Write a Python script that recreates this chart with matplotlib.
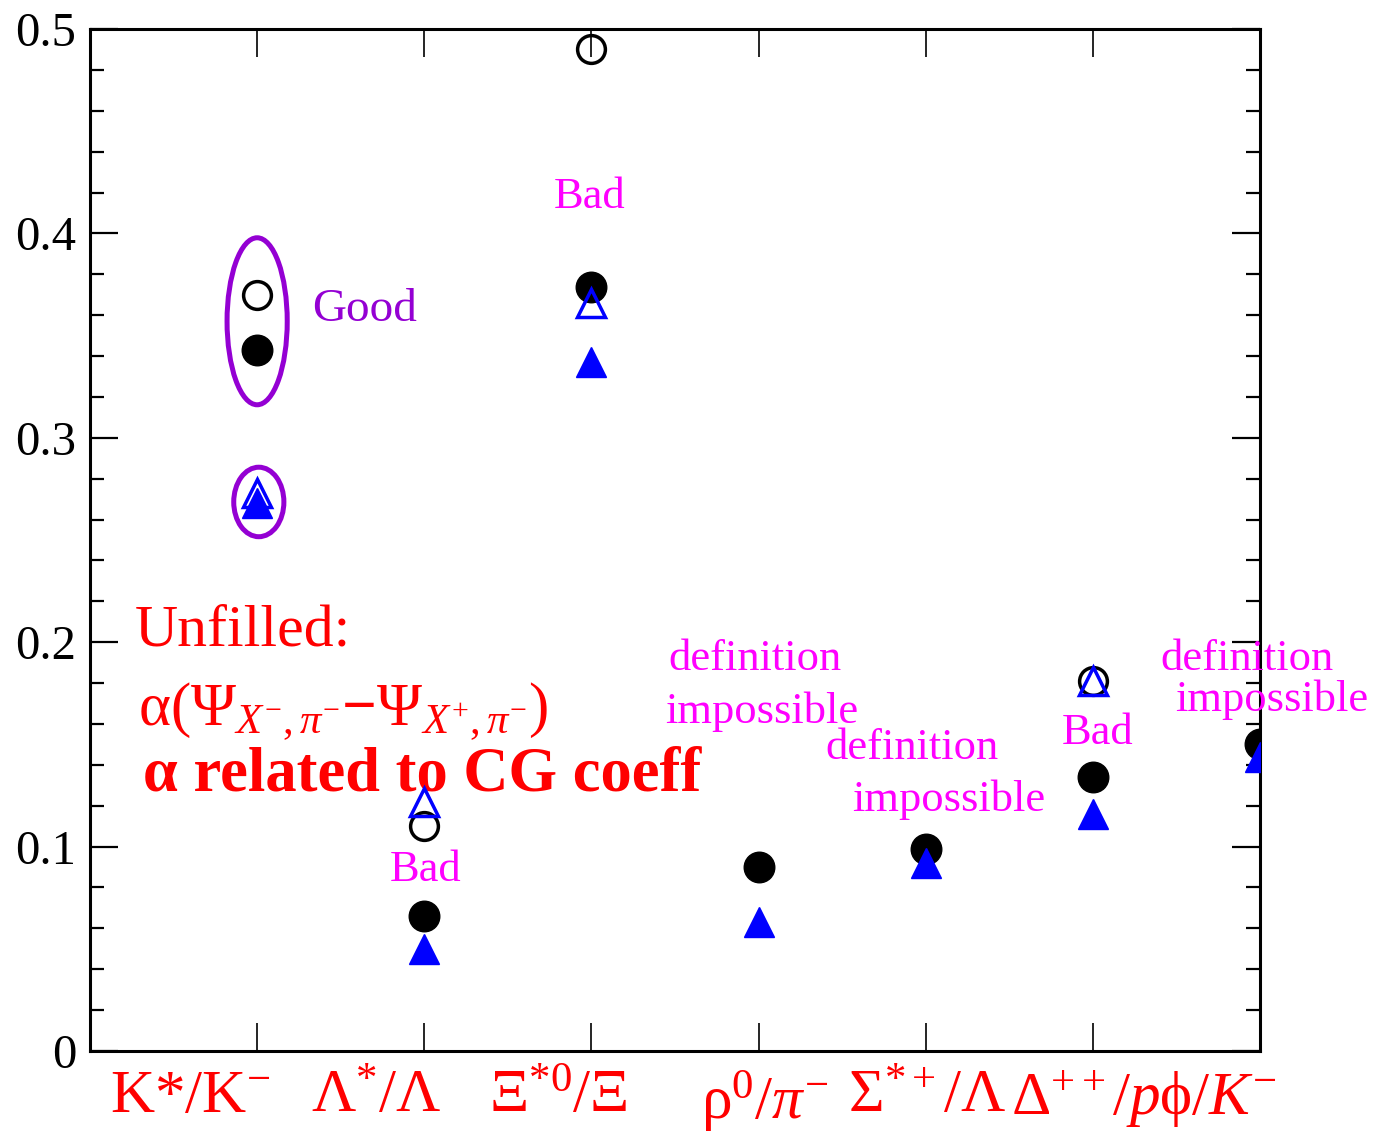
import matplotlib

matplotlib.use("Agg")
import matplotlib.pyplot as plt
import numpy as np
from matplotlib.patches import Ellipse
from matplotlib.ticker import MultipleLocator
import matplotlib.transforms as mtransforms

plt.rcParams["font.family"] = ["Liberation Serif", "DejaVu Serif"]
plt.rcParams["mathtext.fontset"] = "custom"
plt.rcParams["mathtext.rm"] = "Liberation Serif"
plt.rcParams["mathtext.it"] = "Liberation Serif:italic"
plt.rcParams["mathtext.bf"] = "Liberation Serif:bold"

# categories (x = 1..7)
categories = [
    r"K*/K$^{-}$",
    r"Λ$^{*}$/Λ",
    r"Ξ$^{*0}$/Ξ",
    r"ρ$^{0}$/$π^{-}$",
    r"Σ$^{*+}$/Λ",
    r"Δ$^{++}$/$p$",
    r"ϕ/$K^{-}$",
]
x = np.arange(1, len(categories) + 1)

filled_circle = [0.343, 0.066, 0.374, 0.090, 0.099, 0.134, 0.150]
open_circle = [0.370, 0.110, 0.490, np.nan, np.nan, 0.181, np.nan]
filled_triangle = [0.268, 0.050, 0.337, 0.063, 0.092, 0.116, 0.144]
open_triangle = [0.273, 0.122, 0.366, np.nan, np.nan, 0.181, np.nan]

# horizontal placement of the category labels relative to their tick
label_x = [0.60, 1.71, 2.80, 4.04, 5.01, 5.96, 6.75]

fig = plt.figure(figsize=(13.76, 11.41), dpi=100)
ax = fig.add_axes([0.0654, 0.0789, 0.8503, 0.8957])

ax.plot(x, filled_circle, "o", color="black", ms=22, ls="none", zorder=3)
ax.plot(x, open_circle, "o", mfc="none", mec="black", mew=2.5, ms=20, ls="none", zorder=4)
ax.plot(x, filled_triangle, "^", color="blue", ms=22, ls="none", zorder=5)
ax.plot(x, open_triangle, "^", mfc="none", mec="blue", mew=2.5, ms=20, ls="none", zorder=6)

ax.set_xlim(0, 7)
ax.set_ylim(0, 0.5)
ax.set_xticks(x)
ax.set_xticklabels([])
ax.yaxis.set_major_locator(MultipleLocator(0.1))
ax.yaxis.set_minor_locator(MultipleLocator(0.02))
ax.set_yticks([0, 0.1, 0.2, 0.3, 0.4, 0.5])
ax.set_yticklabels(["0", "0.1", "0.2", "0.3", "0.4", "0.5"])
ax.tick_params(axis="y", which="major", direction="in", length=20, width=1.6,
               left=True, right=True, labelsize=35, pad=10)
ax.tick_params(axis="y", which="minor", direction="in", length=10, width=1.6,
               left=True, right=True)
ax.tick_params(axis="x", which="major", direction="in", length=20, width=1.2,
               top=True, bottom=True)
for s in ax.spines.values():
    s.set_linewidth(2.2)

trans = mtransforms.blended_transform_factory(ax.transData, ax.transAxes)
for lx, lab in zip(label_x, categories):
    ax.text(lx, -0.018, lab, transform=trans, ha="center", va="top",
            fontsize=44, color="red")

# "Good" ellipses
violet = "#9400D3"
ax.add_patch(Ellipse((1.0, 0.357), 0.36, 0.0817, fill=False, ec=violet, lw=3.6, zorder=7))
ax.add_patch(Ellipse((1.01, 0.2686), 0.30, 0.034, fill=False, ec=violet, lw=3.6, zorder=7))
ax.text(1.33, 0.3625, "Good", color=violet, fontsize=34, ha="left", va="center")

magenta = "#FF00FF"
ax.text(2.99, 0.418, "Bad", color=magenta, fontsize=32, ha="center", va="center")
ax.text(2.01, 0.0886, "Bad", color=magenta, fontsize=32, ha="center", va="center")
ax.text(6.03, 0.1556, "Bad", color=magenta, fontsize=32, ha="center", va="center")

ax.text(3.98, 0.192, "definition", color=magenta, fontsize=32, ha="center", va="center")
ax.text(4.02, 0.166, "impossible", color=magenta, fontsize=32, ha="center", va="center")
ax.text(4.92, 0.148, "definition", color=magenta, fontsize=32, ha="center", va="center")
ax.text(5.14, 0.123, "impossible", color=magenta, fontsize=32, ha="center", va="center")
ax.text(6.92, 0.192, "definition", color=magenta, fontsize=32, ha="center", va="center")
ax.text(7.07, 0.172, "impossible", color=magenta, fontsize=32, ha="center", va="center",
        clip_on=False)

ax.text(0.27, 0.205, "Unfilled:", color="red", fontsize=43, ha="left", va="center")
ax.text(0.285, 0.166,
        r"$\mathrm{α(Ψ}_{X^{-},π^{-}}\mathbf{-}\mathrm{Ψ}_{X^{+},π^{-}}\mathrm{)}$",
        color="red", fontsize=44, ha="left", va="center")
ax.text(0.32, 0.135, "α related to CG coeff", color="red", fontsize=45,
        fontweight="bold", ha="left", va="center")

fig.savefig("out.png", dpi=100, facecolor="white")
